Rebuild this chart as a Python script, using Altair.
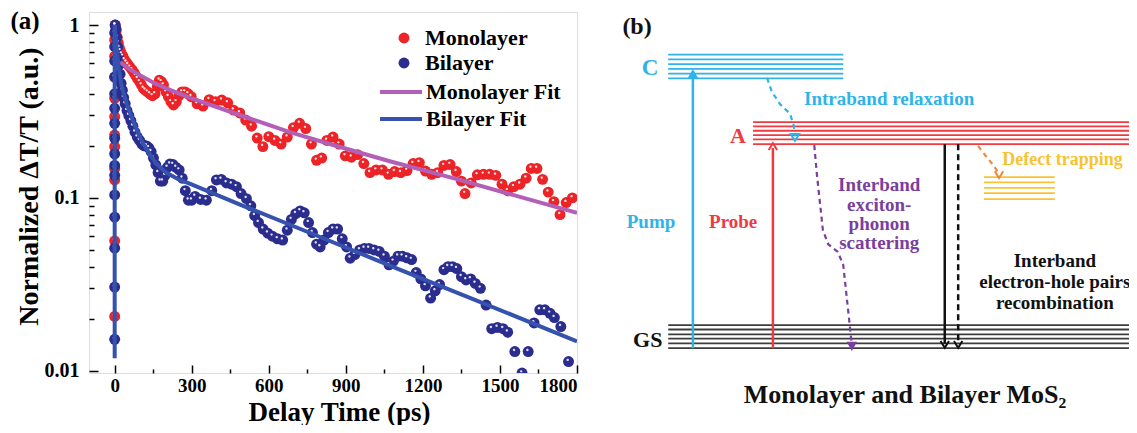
import altair as alt
import pandas as pd

FONT = "Liberation Serif"
RED, NAVY, ORCHID, BLUE = "#ec2327", "#2b2d8e", "#b25fb8", "#3552ae"

# ---------------- panel (a): transient absorption decay ----------------
mono_rise_v = [0.0206, 0.0564, 0.127, 0.148, 0.198, 0.231, 0.295, 0.377, 0.5, 0.66, 0.82]
mono_t = [2, 6, 10, 14, 18, 22, 27, 32, 38, 45, 52, 60, 68, 75, 82, 89, 97, 104, 112, 119,
          128, 137, 147, 157, 166, 174, 182, 190, 200, 209, 219, 229, 240, 250, 262, 274, 286,
          298, 321, 344, 368, 392, 417, 440, 463, 487, 510, 533, 555, 577, 600, 624, 648, 672, 696,
          720, 744, 766, 786, 806, 826, 850, 874, 898, 922, 946, 970, 994, 1018, 1042, 1066, 1090,
          1114, 1138, 1162, 1186, 1210, 1234, 1258, 1282, 1306, 1330, 1350, 1364, 1388, 1412, 1436,
          1460, 1484, 1508, 1530, 1554, 1578, 1602, 1622, 1644, 1666, 1688, 1710, 1734, 1758, 1782]
mono_v = [1.0, 0.93, 0.85, 0.79, 0.74, 0.71, 0.68, 0.66, 0.63, 0.61, 0.59, 0.57, 0.55, 0.53, 0.51,
          0.49, 0.47, 0.45, 0.43, 0.42, 0.41, 0.40, 0.39, 0.40, 0.44, 0.48, 0.47, 0.45, 0.41, 0.385,
          0.36, 0.345, 0.36, 0.39, 0.41, 0.41, 0.40,
          0.385, 0.35, 0.34, 0.37, 0.36, 0.368, 0.355, 0.322, 0.31, 0.282, 0.26, 0.222, 0.198, 0.226,
          0.215, 0.205, 0.225, 0.255, 0.27, 0.252, 0.205, 0.165, 0.17, 0.215, 0.225, 0.205, 0.175,
          0.172, 0.178, 0.158, 0.14, 0.145, 0.145, 0.137, 0.142, 0.14, 0.144, 0.158, 0.16, 0.143,
          0.137, 0.14, 0.154, 0.156, 0.142, 0.125, 0.106, 0.122, 0.136, 0.137, 0.137, 0.135, 0.12,
          0.11, 0.116, 0.12, 0.13, 0.148, 0.148, 0.128, 0.108, 0.095, 0.08, 0.094, 0.1]

bi_rise_v = [0.0152, 0.0305, 0.0512, 0.0773, 0.104, 0.135, 0.154, 0.18, 0.221, 0.27, 0.33, 0.40,
             0.5, 0.62, 0.75, 0.9]
bi_t = [2, 5, 8, 11, 14, 17, 21, 25, 30, 35, 41, 48, 55, 63, 71, 79, 88, 97, 106, 115, 124, 133,
        142, 151, 160, 169, 178, 187, 196, 205, 215, 227, 239, 251, 263, 275, 287, 300,
        313, 335, 357, 378, 396, 415, 435, 455, 474, 492, 513, 530, 545, 560, 578, 596, 614, 634,
        654, 672, 688, 705, 722, 738, 755, 770, 786, 800, 815, 832, 850, 868, 886, 903, 917, 935,
        954, 972, 990, 1010, 1030, 1050, 1068, 1085, 1103, 1120, 1138, 1156, 1174, 1192, 1210,
        1230, 1248, 1265, 1282, 1298, 1315, 1332, 1350, 1368, 1386, 1404, 1424, 1446, 1468, 1490,
        1512, 1530, 1558, 1586, 1610, 1633, 1655, 1675, 1695, 1712, 1737, 1767]
bi_v = [1.0, 0.95, 0.85, 0.75, 0.66, 0.59, 0.52, 0.46, 0.42, 0.38, 0.35, 0.32, 0.30, 0.28, 0.26,
        0.24, 0.225, 0.215, 0.205, 0.2, 0.2, 0.195, 0.185, 0.17, 0.155, 0.14, 0.125, 0.125, 0.135,
        0.15, 0.157, 0.156, 0.15, 0.145, 0.13, 0.11, 0.097, 0.097,
        0.102, 0.098, 0.097, 0.11, 0.127, 0.128, 0.122, 0.12, 0.116, 0.106, 0.099, 0.09, 0.079,
        0.072, 0.066, 0.0625, 0.06, 0.058, 0.057, 0.065, 0.075, 0.081, 0.084, 0.082, 0.072, 0.063,
        0.054, 0.052, 0.057, 0.063, 0.066, 0.066, 0.058, 0.052, 0.0448, 0.047, 0.05, 0.051, 0.051,
        0.05, 0.049, 0.046, 0.041, 0.043, 0.046, 0.046, 0.045, 0.044, 0.037, 0.034, 0.031, 0.0263,
        0.029, 0.0315, 0.0384, 0.04, 0.04, 0.039, 0.035, 0.0335, 0.034, 0.032, 0.03, 0.024, 0.0175,
        0.0178, 0.0175, 0.0167, 0.0129, 0.0097, 0.0129, 0.0189, 0.0225, 0.0225, 0.0215, 0.0203,
        0.018, 0.0113]

mono_fit_t = [22, 50, 100, 150, 200, 292, 450, 682, 837, 1071, 1318, 1550, 1800]
mono_fit_v = [0.61, 0.565, 0.51, 0.465, 0.43, 0.38, 0.315, 0.24, 0.205, 0.163, 0.13, 0.104, 0.082]
bi_fit_t = [0, 0, 3, 8, 15, 25, 35, 50, 71, 90, 110, 135, 162, 200, 253, 292, 500, 800, 1100,
            1400, 1800]
bi_fit_v = [0.0118, 1.0, 0.88, 0.72, 0.58, 0.46, 0.40, 0.34, 0.28, 0.24, 0.207, 0.18, 0.158,
            0.14, 0.127, 0.121, 0.090, 0.0594, 0.039, 0.0258, 0.0148]

x_major = [0, 300, 600, 900, 1200, 1500, 1800]
x_minor = [150, 450, 750, 1050, 1350, 1650]
y_major = [0.01, 0.1, 1]
y_minor = [0.02, 0.03, 0.04, 0.05, 0.06, 0.07, 0.08, 0.09,
           0.2, 0.3, 0.4, 0.5, 0.6, 0.7, 0.8, 0.9]

pts = pd.DataFrame({
    "t": [0] * len(mono_rise_v) + mono_t + [0] * len(bi_rise_v) + bi_t,
    "v": mono_rise_v + mono_v + bi_rise_v + bi_v,
    "series": ["Monolayer"] * (len(mono_rise_v) + len(mono_t))
              + ["Bilayer"] * (len(bi_rise_v) + len(bi_t)),
})
fits = pd.DataFrame({
    "t": mono_fit_t + bi_fit_t,
    "v": mono_fit_v + bi_fit_v,
    "series": ["Monolayer Fit"] * len(mono_fit_t) + ["Bilayer Fit"] * len(bi_fit_t),
    "idx": list(range(len(mono_fit_t))) + list(range(len(bi_fit_t))),
})

XS = alt.Scale(domain=[-100, 1800], nice=False, zero=False)
YS = alt.Scale(type="log", domain=[0.0097, 1.19], nice=False)

lab = dict(labelFont=FONT, labelFontWeight="bold", labelColor="black",
           titleFont=FONT, titleFontWeight="bold", titleColor="black",
           tickColor="black", tickWidth=1.5, domain=False, grid=False)
minor = dict(labels=False, title=None, domain=False, grid=False, tickColor="black", tickWidth=1.5)

x_axis = alt.Axis(values=x_major, orient="bottom", format="d", tickSize=8, offset=-8,
                  labelPadding=3, labelFontSize=19, title="Delay Time (ps)",
                  titleFontSize=27, titleBaseline="alphabetic", titleY=55, titleX=250, **lab)
y_axis = alt.Axis(values=y_major, orient="left", format="~g", tickSize=9, offset=-9,
                  labelPadding=10, labelFontSize=20, title="Normalized ΔT/T (a.u.)",
                  titleFontSize=28, titleBaseline="alphabetic", titleX=-61, titleY=174, **lab)
x_axis_minor = alt.Axis(values=x_minor, orient="bottom", tickSize=4, offset=-4, **minor)
y_axis_minor = alt.Axis(values=y_minor, orient="left", tickSize=5, offset=-5, **minor)

points = alt.Chart(pts).mark_circle(size=120, opacity=1, clip=True).encode(
    x=alt.X("t:Q", scale=XS, axis=x_axis),
    y=alt.Y("v:Q", scale=YS, axis=y_axis),
    fill=alt.Fill("series:N",
                  scale=alt.Scale(domain=["Monolayer", "Bilayer"], range=[RED, NAVY]),
                  legend=alt.Legend(orient="none", legendX=304, legendY=15, direction="vertical",
                                    title=None, symbolType="circle", symbolSize=120,
                                    symbolStrokeWidth=0, labelOffset=10, labelFont=FONT,
                                    labelFontWeight="bold", labelFontSize=22,
                                    labelColor="black", rowPadding=3)),
)
shine = alt.Chart(pts).mark_point(
    shape="M-0.37,-0.3 a0.22,0.22 0 1,0 0.44,0 a0.22,0.22 0 1,0 -0.44,0 Z",
    filled=True, color="white", opacity=0.85, size=120, clip=True,
).encode(
    x=alt.X("t:Q", scale=XS, axis=None),
    y=alt.Y("v:Q", scale=YS, axis=None),
)
lines = alt.Chart(fits).mark_line(strokeWidth=4, clip=True).encode(
    x=alt.X("t:Q", scale=XS, axis=x_axis_minor),
    y=alt.Y("v:Q", scale=YS, axis=y_axis_minor),
    stroke=alt.Stroke("series:N",
                      scale=alt.Scale(domain=["Monolayer Fit", "Bilayer Fit"],
                                      range=[ORCHID, BLUE]),
                      legend=alt.Legend(orient="none", legendX=289, legendY=68,
                                        direction="vertical", title=None, symbolType="stroke",
                                        symbolSize=1764, symbolStrokeWidth=4, labelOffset=2,
                                        clipHeight=24, labelFont=FONT, labelFontWeight="bold",
                                        labelFontSize=22, labelColor="black", rowPadding=3)),
    order="idx:Q",
)
tag_a = alt.Chart(pd.DataFrame({"label": ["(a)"]})).mark_text(
    font=FONT, fontWeight="bold", fontSize=25, align="center", baseline="middle", color="black"
).encode(text="label:N", x=alt.value(-64), y=alt.value(9))

panel_a = alt.layer(points, shine, lines, tag_a).resolve_axis(x="independent", y="independent")

# ---------------- panel (b): energy-level schematic (diagram units 0-100) ----------------
groups = ["C", "A", "GS", "trap", "phonon", "recomb", "defect"]
group_colors = ["#2fb3e8", "#ef3a40", "#3d3d3d", "#f7c331", "#7a3f9d", "#111111", "#ee8a3a"]

level_groups = ["C", "A", "GS", "trap"]
level_energies = {
    "C": [87.4, 86.3, 85.2, 84.1, 83.0, 81.9],
    "A": [71.8, 70.8, 69.8, 68.8, 67.8, 66.7],
    "GS": [24.9, 23.9, 22.8, 21.8, 20.7, 19.6],
    "trap": [59.1, 57.9, 56.6, 55.4, 54.0],
}
level_span = {"C": (12.7, 45.3), "A": (28.5, 100), "GS": (12.7, 100), "trap": (71.5, 84.7)}

arrow_name = ["Pump", "Probe", "Recomb", "RecombDash"]
arrow_group = ["C", "A", "recomb", "recomb"]
arrow_x = [17.3, 32.2, 64.2, 66.7]
arrow_from = [19.6, 19.6, 66.7, 66.7]
arrow_to = [82.5, 65.8, 20.6, 20.6]
arrow_style = ["solid", "solid", "solid", "dashed"]

curve_name = ["intraband"] * 6 + ["phonon"] * 10 + ["defect"] * 4
curve_group = ["C"] * 6 + ["phonon"] * 10 + ["defect"] * 4
curve_x = [31.1, 32.0, 33.5, 35.4, 36.1, 36.3,
           39.9, 40.4, 41.0, 41.5, 42.5, 44.3, 45.3, 45.8, 46.4, 46.9,
           70.4, 71.7, 73.2, 74.3]
curve_y = [82.0, 78.8, 76.0, 73.7, 70.9, 68.5,
           66.5, 59.6, 52.7, 46.9, 43.6, 41.8, 38.8, 33.0, 26.1, 20.3,
           66.3, 64.2, 61.9, 59.9]

head_kind = ["tri_up", "chev_up", "tri_down_open", "tri_down", "chev_down", "chev_down",
             "chev_down"]
head_group = ["C", "A", "C", "phonon", "recomb", "recomb", "defect"]
head_x = [17.3, 32.2, 36.3, 46.9, 64.2, 66.7, 74.3]
head_y = [83.0, 66.2, 68.3, 20.0, 20.4, 20.4, 59.6]
head_fill = [True, False, False, True, False, False, False]
shape_domain = ["tri_up", "tri_down", "chev_up", "chev_down", "tri_down_open"]
shape_range = ["triangle-up", "triangle-down",
               "M-0.8,0.7L0,-0.6L0.8,0.7", "M-0.8,-0.7L0,0.6L0.8,-0.7",
               "M-0.8,-0.6L0.8,-0.6L0,0.7Z"]

text_label = ["(b)", "C", "A", "GS", "Pump", "Probe",
              "Interband", "exciton-", "phonon", "scattering",
              "Interband", "electron-hole pairs", "recombination",
              "Monolayer and Bilayer MoS₂"]
text_group = ["recomb", "C", "A", "recomb", "C", "A",
              "phonon", "phonon", "phonon", "phonon",
              "recomb", "recomb", "recomb", "recomb"]
text_x = [6.9, 9.3, 25.7, 8.9, 9.5, 24.8, 52.0, 52.0, 52.0, 52.0, 84.7, 84.7, 84.7, 56.8]
text_y = [93.8, 84.3, 68.6, 21.5, 48.7, 48.7, 57.3, 52.7, 48.3, 43.9, 39.7, 34.8, 30.0, 8.8]
text_size = [24, 23, 22, 22, 19, 19, 19, 19, 19, 19, 19, 19, 19, 26]

left_label = ["Intraband relaxation", "Defect trapping"]
left_group = ["C", "trap"]
left_x = [38.0, 74.9]
left_y = [77.1, 63.0]
left_size = [19, 18]

rows = []
for g in level_groups:
    for e in level_energies[g]:
        rows.append({"group": g, "x1": level_span[g][0], "x2": level_span[g][1], "e": e})
levels = pd.DataFrame(rows)
arrows = pd.DataFrame({"name": arrow_name, "group": arrow_group, "x": arrow_x,
                       "y1": arrow_from, "y2": arrow_to, "style": arrow_style})
curves = pd.DataFrame({"name": curve_name, "group": curve_group, "x": curve_x, "y": curve_y,
                       "idx": list(range(len(curve_x)))})
heads = pd.DataFrame({"kind": head_kind, "group": head_group, "x": head_x, "y": head_y,
                      "filled": head_fill})
texts = pd.DataFrame({"label": text_label, "group": text_group, "x": text_x, "y": text_y,
                      "fs": text_size})
ltexts = pd.DataFrame({"label": left_label, "group": left_group, "x": left_x, "y": left_y,
                       "fs": left_size})

BX = alt.Scale(domain=[0, 100], range=[511, 1048], nice=False, zero=False)
BY = alt.Scale(domain=[0, 100], range=[421, -12], nice=False, zero=False)
BC = alt.Color("group:N", scale=alt.Scale(domain=groups, range=group_colors), legend=None)

lv = alt.Chart(levels).mark_rule(strokeWidth=1.8).encode(
    x=alt.X("x1:Q", scale=BX, axis=None), x2="x2:Q",
    y=alt.Y("e:Q", scale=BY, axis=None), color=BC)
ar = alt.Chart(arrows).mark_rule(strokeWidth=2.5).encode(
    x=alt.X("x:Q", scale=BX, axis=None),
    y=alt.Y("y1:Q", scale=BY, axis=None), y2="y2:Q", color=BC,
    strokeDash=alt.StrokeDash("style:N", scale=alt.Scale(domain=["solid", "dashed"],
                                                          range=[[1, 0], [6, 4]]), legend=None))
cv = alt.Chart(curves).mark_line(strokeWidth=2.2, strokeDash=[5, 4]).encode(
    x=alt.X("x:Q", scale=BX, axis=None), y=alt.Y("y:Q", scale=BY, axis=None),
    detail="name:N", order="idx:Q", color=BC)
hd_fill = alt.Chart(heads).transform_filter("datum.filled").mark_point(
    filled=True, size=110, opacity=1).encode(
    x=alt.X("x:Q", scale=BX, axis=None), y=alt.Y("y:Q", scale=BY, axis=None), color=BC,
    shape=alt.Shape("kind:N", scale=alt.Scale(domain=shape_domain, range=shape_range),
                    legend=None))
hd_open = alt.Chart(heads).transform_filter("!datum.filled").mark_point(
    filled=False, size=110, strokeWidth=2, opacity=1).encode(
    x=alt.X("x:Q", scale=BX, axis=None), y=alt.Y("y:Q", scale=BY, axis=None), color=BC,
    shape=alt.Shape("kind:N", scale=alt.Scale(domain=shape_domain, range=shape_range),
                    legend=None))
tx = alt.Chart(texts).mark_text(font=FONT, fontWeight="bold", align="center",
                                baseline="middle").encode(
    x=alt.X("x:Q", scale=BX, axis=None), y=alt.Y("y:Q", scale=BY, axis=None),
    text="label:N", color=BC, size=alt.Size("fs:Q", scale=None))
ltx = alt.Chart(ltexts).mark_text(font=FONT, fontWeight="bold", align="left",
                                  baseline="middle").encode(
    x=alt.X("x:Q", scale=BX, axis=None), y=alt.Y("y:Q", scale=BY, axis=None),
    text="label:N", color=BC, size=alt.Size("fs:Q", scale=None))

panel_b = alt.layer(lv, ar, cv, hd_fill, hd_open, tx, ltx)

chart = alt.layer(panel_a, panel_b).resolve_scale(
    x="independent", y="independent", color="independent", fill="independent",
    stroke="independent", shape="independent", strokeDash="independent", size="independent",
).properties(
    width=488, height=361,
    autosize=alt.AutoSizeParams(type="none"),
    padding={"left": 81, "top": 4, "right": 552, "bottom": 52},
).configure_view(stroke="#222222", strokeWidth=1.6).configure(font=FONT)

chart.save("out.html", embed_options={"renderer": "svg", "actions": False})
